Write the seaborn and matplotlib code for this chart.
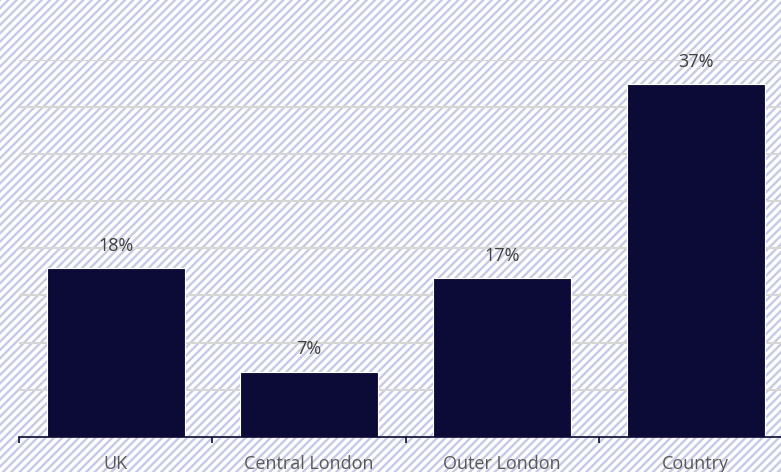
import matplotlib
matplotlib.use("Agg")
import matplotlib.pyplot as plt
from matplotlib.patches import Rectangle
import seaborn as sns
import pandas as pd

# Share of respondents by area
categories = ["UK", "Central London", "Outer London", "Country"]
values = [17.9, 6.9, 16.8, 37.4]

NAVY = "#0c0a36"
STRIPE = "#c6cae4"
GRID = "#d6d6d6"

sns.set_theme(style="white")
plt.rcParams["font.family"] = ["Open Sans", "DejaVu Sans"]
plt.rcParams["hatch.color"] = STRIPE
plt.rcParams["hatch.linewidth"] = 1.7

W, H = 781, 472
fig = plt.figure(figsize=(W / 100, H / 100), dpi=100)

# striped backdrop over the whole figure
bg = Rectangle((0, 0), 1, 1, transform=fig.transFigure, facecolor="white",
               edgecolor=STRIPE, hatch="////", linewidth=0, zorder=-10)
fig.patches.append(bg)

left, right = 19 / W, 1.0
bottom = (H - 436.7) / H
top = (H - 60) / H
ax = fig.add_axes([left, bottom, right - left, top - bottom])
ax.set_facecolor("none")

df = pd.DataFrame({"area": categories, "share": values})
sns.barplot(data=df, x="area", y="share", color=NAVY, saturation=1,
            width=0.714, edgecolor="white", linewidth=0.8, ax=ax, zorder=3)

ax.set_yticks(range(5, 41, 5))
ax.yaxis.grid(True, color=GRID, linewidth=1.5, zorder=0)
ax.xaxis.grid(False)
ax.set_axisbelow(True)
ax.tick_params(axis="y", left=False, labelleft=False)

for s in ["left", "right", "top"]:
    ax.spines[s].set_visible(False)
ax.spines["bottom"].set_color(NAVY)
ax.spines["bottom"].set_linewidth(1.2)
ax.spines["bottom"].set_zorder(5)

ax.set_xticks(range(len(categories)))
ax.set_xticklabels(categories)
ax.set_xticks([-0.5, 0.5, 1.5, 2.5, 3.5], minor=True)
ax.tick_params(axis="x", which="major", length=0, pad=13, labelsize=13,
               labelcolor="#595959")
ax.tick_params(axis="x", which="minor", direction="out", length=4,
               width=1.2, color=NAVY, bottom=True)
ax.set_xlabel("")
ax.set_ylabel("")

# limits last, so the tick settings above cannot widen them
ax.set_ylim(0, 40)
ax.set_xlim(-0.5, 3.442)

for i, v in enumerate(values):
    ax.annotate(f"{v:.0f}%", (i, v), xytext=(0, 16), textcoords="offset points",
                ha="center", va="center", fontsize=13, color="#404040",
                annotation_clip=False)

fig.savefig("out.png", dpi=100)
